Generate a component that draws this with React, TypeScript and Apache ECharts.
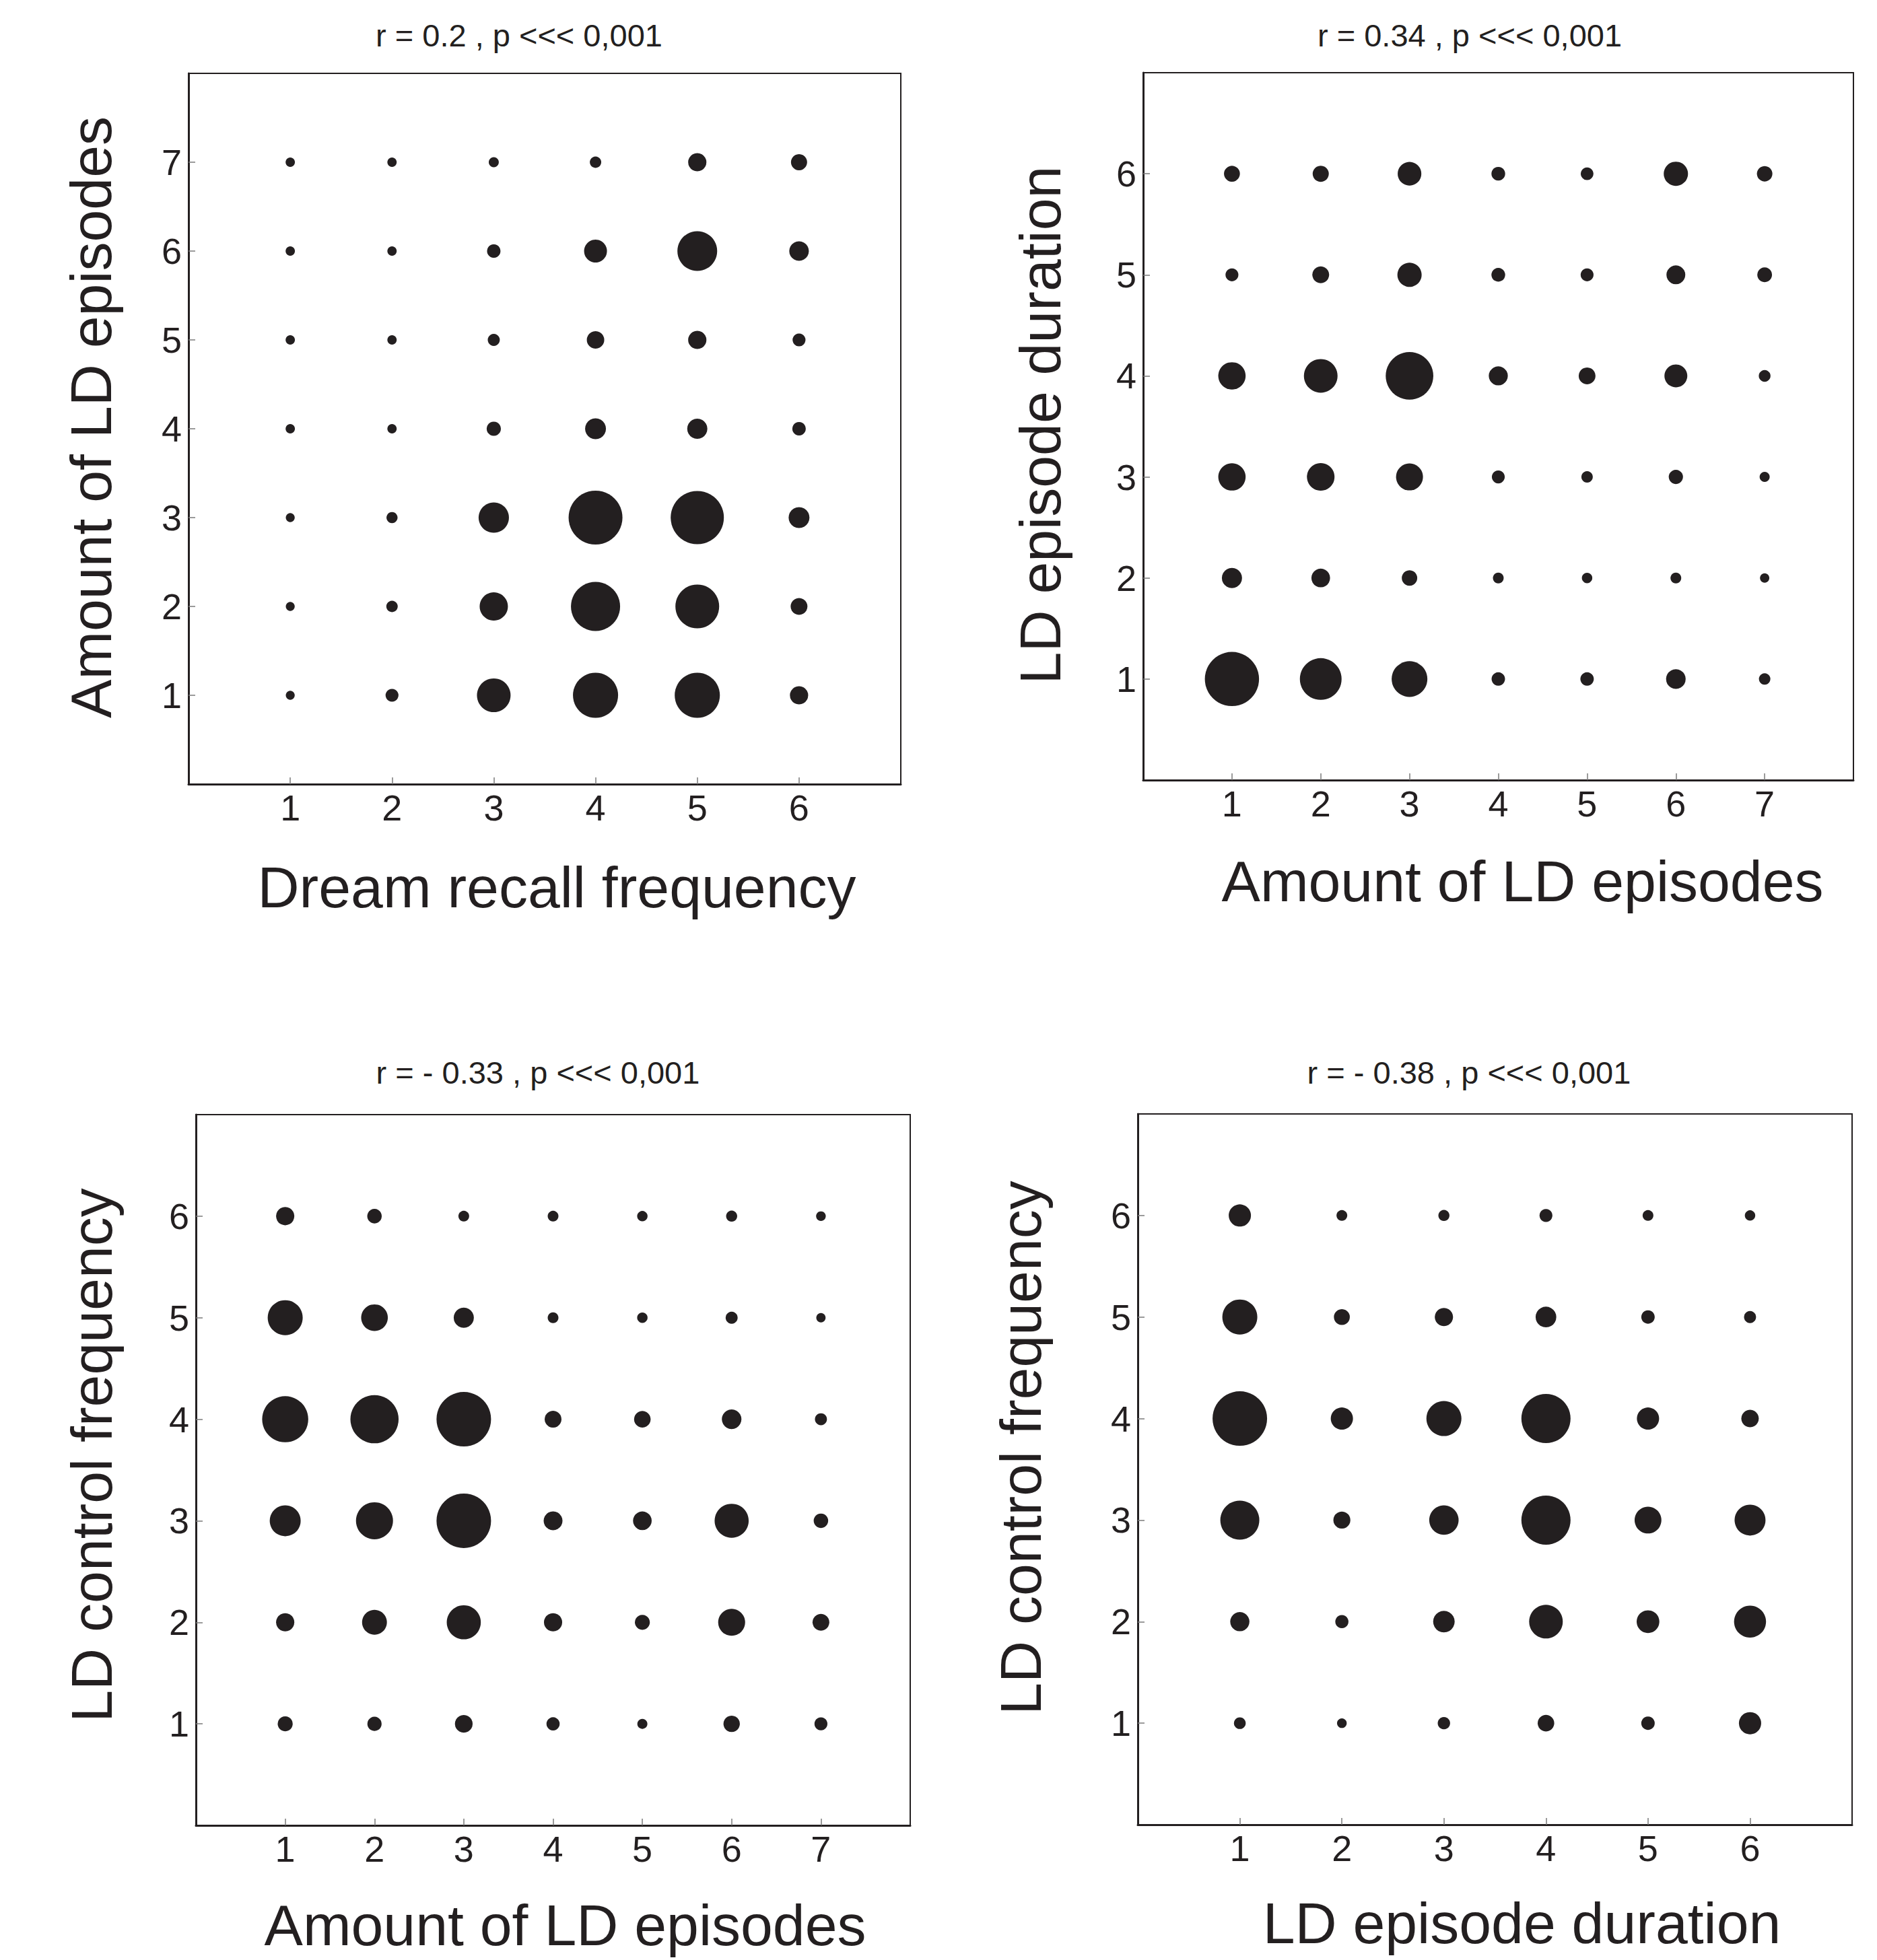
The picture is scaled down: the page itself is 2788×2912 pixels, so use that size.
import React, { useEffect, useRef } from "react";
import * as echarts from "echarts";

// ---------- data ----------
const titles = [
  "r = 0.2 , p <<< 0,001",
  "r = 0.34 , p <<< 0,001",
  "r = - 0.33 , p <<< 0,001",
  "r = - 0.38 , p <<< 0,001",
];

const dreamRecallTicks = [1, 2, 3, 4, 5, 6];
const ldAmountTicks = [1, 2, 3, 4, 5, 6, 7];
const ldDurationTicks = [1, 2, 3, 4, 5, 6];
const ldControlTicks = [1, 2, 3, 4, 5, 6];

// counts[row = y value - 1][col = x value - 1]
const recallVsAmount = [
  [11, 23, 156, 281, 281, 46],
  [11, 18, 110, 333, 264, 39],
  [11, 17, 127, 400, 390, 60],
  [12, 12, 28, 60, 56, 25],
  [12, 12, 20, 42, 46, 23],
  [12, 12, 25, 72, 218, 53],
  [12, 12, 14, 18, 46, 36],
];

const amountVsDuration = [
  [405, 240, 176, 25, 25, 53, 18],
  [56, 48, 33, 16, 15, 16, 12],
  [103, 105, 100, 23, 18, 28, 14],
  [103, 156, 312, 50, 39, 72, 19],
  [23, 39, 81, 26, 23, 49, 30],
  [35, 36, 77, 26, 22, 81, 33],
];

const amountVsControl = [
  [31, 28, 43, 24, 14, 37, 23],
  [46, 85, 160, 46, 31, 100, 39],
  [132, 189, 410, 49, 48, 160, 29],
  [293, 320, 410, 39, 38, 53, 20],
  [169, 98, 56, 16, 15, 20, 12],
  [46, 29, 16, 16, 15, 17, 13],
];

const durationVsControl = [
  [19, 13, 21, 38, 25, 68],
  [51, 24, 64, 156, 71, 141],
  [210, 40, 119, 333, 99, 132],
  [410, 68, 169, 333, 68, 42],
  [169, 35, 46, 59, 25, 20],
  [68, 16, 17, 23, 16, 15],
];

// ---------- layout ----------
const FONT = "'Liberation Sans', Arial, Helvetica, sans-serif";
const INK = "#231f20";

const panels = [
  {
    counts: recallVsAmount, xTicks: dreamRecallTicks, yTicks: ldAmountTicks,
    xMax: 7, yMax: 8,
    grid: { left: 280, top: 109, width: 1058, height: 1056 },
    xName: "Dream recall frequency", yName: "Amount of LD episodes",
    titlePos: [771, 52.5], xGap: 110, xShift: 18, yGap: 102, yShift: 17,
  },
  {
    counts: amountVsDuration, xTicks: ldAmountTicks, yTicks: ldDurationTicks,
    xMax: 8, yMax: 7,
    grid: { left: 1698, top: 108, width: 1055, height: 1051 },
    xName: "Amount of LD episodes", yName: "LD episode duration",
    titlePos: [2183, 52.5], xGap: 107, xShift: 36, yGap: 110, yShift: 2,
  },
  {
    counts: amountVsControl, xTicks: ldAmountTicks, yTicks: ldControlTicks,
    xMax: 8, yMax: 7,
    grid: { left: 291, top: 1656, width: 1061, height: 1056 },
    xName: "Amount of LD episodes", yName: "LD control frequency",
    titlePos: [799, 1593.5], xGap: 105, xShift: 18, yGap: 112, yShift: 22,
  },
  {
    counts: durationVsControl, xTicks: ldDurationTicks, yTicks: ldControlTicks,
    xMax: 7, yMax: 7,
    grid: { left: 1690, top: 1655, width: 1061, height: 1056 },
    xName: "LD episode duration", yName: "LD control frequency",
    titlePos: [2182, 1593.5], xGap: 103, xShift: 40, yGap: 131, yShift: 32,
  },
];

function shiftPadding(s: number) {
  return s >= 0 ? [0, 0, 0, 2 * s] : [0, -2 * s, 0, 0];
}

function buildOption() {
  const grid: any[] = [];
  const xAxis: any[] = [];
  const yAxis: any[] = [];
  const series: any[] = [];
  const graphic: any[] = [];

  panels.forEach((p, i) => {
    grid.push({
      ...p.grid,
      show: true,
      borderColor: INK,
      borderWidth: 2,
      backgroundColor: "transparent",
      containLabel: false,
    });
    const tickStyle = { show: true, inside: true, length: 10, lineStyle: { color: "#7a7a7a", width: 1.5 } };
    xAxis.push({
      type: "value",
      gridIndex: i,
      min: 0,
      max: p.xMax,
      interval: 1,
      axisLine: { show: true, onZero: false, lineStyle: { color: INK, width: 3 } },
      axisTick: { ...tickStyle, customValues: p.xTicks },
      axisLabel: {
        customValues: p.xTicks,
        margin: 8,
        fontSize: 54,
        color: INK,
        fontFamily: FONT,
      },
      splitLine: { show: false },
      name: p.xName,
      nameLocation: "middle",
      nameGap: p.xGap,
      nameTextStyle: {
        fontSize: 86,
        color: INK,
        fontFamily: FONT,
        padding: shiftPadding(p.xShift),
      },
    });
    yAxis.push({
      type: "value",
      gridIndex: i,
      min: 0,
      max: p.yMax,
      interval: 1,
      axisLine: { show: true, onZero: false, lineStyle: { color: INK, width: 3 } },
      axisTick: { ...tickStyle, customValues: p.yTicks },
      axisLabel: {
        customValues: p.yTicks,
        margin: 10,
        fontSize: 54,
        color: INK,
        fontFamily: FONT,
      },
      splitLine: { show: false },
      name: p.yName,
      nameLocation: "middle",
      nameGap: p.yGap,
      nameTextStyle: {
        fontSize: 86,
        color: INK,
        fontFamily: FONT,
        padding: shiftPadding(p.yShift),
      },
    });
    const data: number[][] = [];
    p.counts.forEach((row, r) => {
      row.forEach((n, c) => {
        data.push([p.xTicks[c], p.yTicks[r], n]);
      });
    });
    series.push({
      type: "scatter",
      xAxisIndex: i,
      yAxisIndex: i,
      symbol: "circle",
      symbolSize: (v: number[]) => 4 * Math.sqrt(v[2]),
      itemStyle: { color: INK, opacity: 1 },
      emphasis: { disabled: true },
      silent: true,
      data,
    });
    graphic.push({
      type: "text",
      x: p.titlePos[0],
      y: p.titlePos[1],
      style: {
        text: titles[i],
        fontSize: 47,
        fontFamily: FONT,
        fill: INK,
        align: "center",
        verticalAlign: "middle",
      },
    });
  });

  return {
    animation: false,
    backgroundColor: "#ffffff",
    textStyle: { fontFamily: FONT },
    grid,
    xAxis,
    yAxis,
    series,
    graphic,
  };
}

export default function App() {
  const ref = useRef<HTMLDivElement>(null);
  useEffect(() => {
    if (!ref.current) return;
    const chart = echarts.init(ref.current, undefined, { renderer: "svg" });
    chart.setOption(buildOption() as any);
    return () => chart.dispose();
  }, []);
  return (
    <div
      ref={ref}
      style={{ position: "absolute", left: 0, top: 0, width: 2788, height: 2912, background: "#fff" }}
    />
  );
}
